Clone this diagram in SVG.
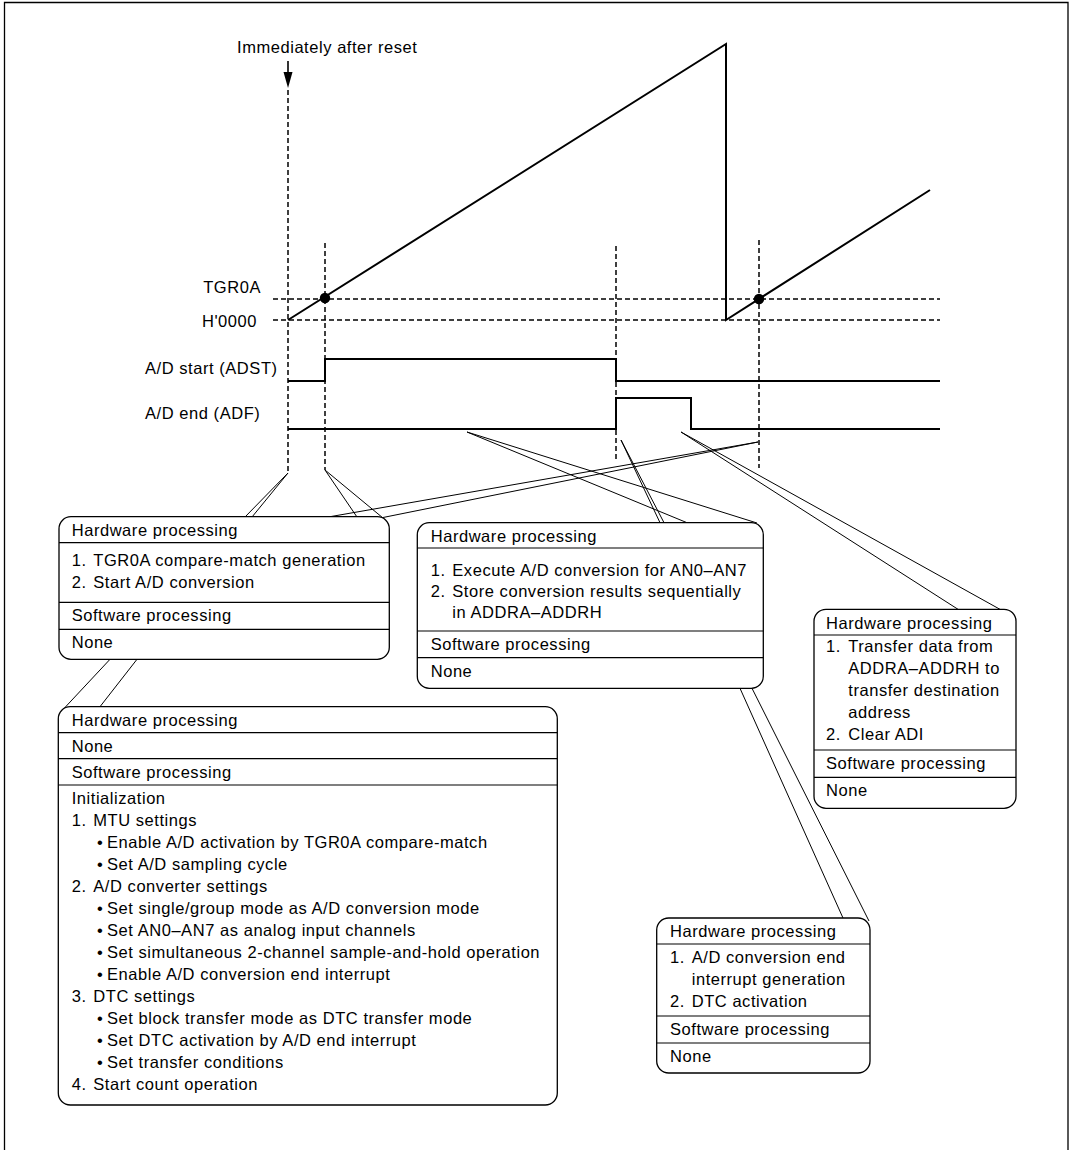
<svg xmlns="http://www.w3.org/2000/svg" width="1072" height="1150" viewBox="0 0 1072 1150">
  <defs>
    <style>
      .t { font-family: "Liberation Sans", Arial, sans-serif; font-size: 16.5px; letter-spacing: 0.55px; fill: #000; }
      .box { fill: #fff; stroke: #000; stroke-width: 1.3; }
      .div { stroke: #000; stroke-width: 1.2; }
      .dash { fill: none; stroke: #000; stroke-width: 1.5; stroke-dasharray: 5 3; }
      .wave { fill: none; stroke: #000; stroke-width: 2; }
      .call { fill: none; stroke: #000; stroke-width: 1; }
    </style>
  </defs>
  <rect width="1072" height="1150" fill="#fff"/>

  <!-- page frame -->
  <path d="M4.5,1150 V2.5 H1068 V1150" fill="none" stroke="#000" stroke-width="1.3"/>

  <!-- timing chart -->
  <g id="timing">
    <text class="t" x="237" y="53">Immediately after reset</text>
    <line x1="288" y1="61" x2="288" y2="74" stroke="#000" stroke-width="1.6"/>
    <polygon points="283.5,72 292.5,72 288,88" fill="#000"/>

    <!-- reference levels and time markers -->
    <line class="dash" x1="273" y1="299" x2="940" y2="299"/>
    <line class="dash" x1="273" y1="320" x2="940" y2="320"/>
    <line class="dash" x1="288" y1="90" x2="288" y2="473"/>
    <line class="dash" x1="325" y1="243" x2="325" y2="470"/>
    <line class="dash" x1="616" y1="246" x2="616" y2="462"/>
    <line class="dash" x1="759" y1="240" x2="759" y2="468"/>

    <text class="t" x="261" y="293" text-anchor="end">TGR0A</text>
    <text class="t" x="257" y="327" text-anchor="end">H'0000</text>
    <text class="t" x="145" y="374">A/D start (ADST)</text>
    <text class="t" x="145" y="419">A/D end (ADF)</text>

    <!-- TCNT sawtooth -->
    <path class="wave" d="M288,320 L726,44 L726,320 L930,190"/>
    <circle cx="325" cy="298" r="5.2" fill="#000"/>
    <circle cx="759" cy="299" r="5.2" fill="#000"/>

    <!-- ADST / ADF -->
    <path class="wave" d="M288,381 H325 V359 H616 V381 H940"/>
    <path class="wave" d="M288,429 H616 V398 H691 V429 H940"/>
  </g>

  <!-- callout connectors -->
  <g id="connectors" class="call">
    <line x1="288" y1="473" x2="245" y2="517"/>
    <line x1="288" y1="473" x2="252" y2="517"/>
    <line x1="325" y1="470" x2="357" y2="517"/>
    <line x1="325" y1="470" x2="383" y2="518"/>
    <line x1="758" y1="442" x2="330" y2="516.7"/>
    <line x1="758" y1="442" x2="383" y2="517.5"/>
    <line x1="467" y1="432" x2="687" y2="522.7"/>
    <line x1="467" y1="432" x2="757" y2="523"/>
    <line x1="621" y1="440" x2="660" y2="522.7"/>
    <line x1="621" y1="440" x2="664" y2="522.7"/>
    <line x1="681" y1="432" x2="958" y2="609.3"/>
    <line x1="681" y1="432" x2="1003" y2="611"/>
    <line x1="110" y1="659.3" x2="64" y2="708.5"/>
    <line x1="137" y1="659.3" x2="100" y2="706.7"/>
    <line x1="740" y1="688.3" x2="843" y2="918"/>
    <line x1="752" y1="688.3" x2="869" y2="921"/>
  </g>

  <!-- compare-match processing -->
  <g id="box-compare-match">
    <rect class="box" x="59" y="516.7" width="330.3" height="142.6" rx="12"/>
    <line class="div" x1="59" y1="542.7" x2="389.3" y2="542.7"/>
    <line class="div" x1="59" y1="602.3" x2="389.3" y2="602.3"/>
    <line class="div" x1="59" y1="629.3" x2="389.3" y2="629.3"/>
    <text class="t" x="71.7" y="535.5">Hardware processing</text>
    <text class="t" x="71.7" y="565.5">1.</text>
    <text class="t" x="93.3" y="565.5">TGR0A compare-match generation</text>
    <text class="t" x="71.7" y="587.5">2.</text>
    <text class="t" x="93.3" y="587.5">Start A/D conversion</text>
    <text class="t" x="71.7" y="621">Software processing</text>
    <text class="t" x="71.7" y="648">None</text>
  </g>

  <!-- conversion processing -->
  <g id="box-conversion">
    <rect class="box" x="417.3" y="522.7" width="346" height="165.6" rx="12"/>
    <line class="div" x1="417.3" y1="548" x2="763.3" y2="548"/>
    <line class="div" x1="417.3" y1="631" x2="763.3" y2="631"/>
    <line class="div" x1="417.3" y1="657.7" x2="763.3" y2="657.7"/>
    <text class="t" x="430.7" y="541.5">Hardware processing</text>
    <text class="t" x="430.7" y="576">1.</text>
    <text class="t" x="452.3" y="576">Execute A/D conversion for AN0–AN7</text>
    <text class="t" x="430.7" y="597">2.</text>
    <text class="t" x="452.3" y="597">Store conversion results sequentially</text>
    <text class="t" x="452.3" y="618">in ADDRA–ADDRH</text>
    <text class="t" x="430.7" y="650">Software processing</text>
    <text class="t" x="430.7" y="677">None</text>
  </g>

  <!-- DTC transfer processing -->
  <g id="box-transfer">
    <rect class="box" x="814" y="609.3" width="202" height="199" rx="12"/>
    <line class="div" x1="814" y1="635" x2="1016" y2="635"/>
    <line class="div" x1="814" y1="750" x2="1016" y2="750"/>
    <line class="div" x1="814" y1="777.3" x2="1016" y2="777.3"/>
    <text class="t" x="826" y="628.5">Hardware processing</text>
    <text class="t" x="826" y="652">1.</text>
    <text class="t" x="848.3" y="652">Transfer data from</text>
    <text class="t" x="848.3" y="674">ADDRA–ADDRH to</text>
    <text class="t" x="848.3" y="696">transfer destination</text>
    <text class="t" x="848.3" y="718">address</text>
    <text class="t" x="826" y="740">2.</text>
    <text class="t" x="848.3" y="740">Clear ADI</text>
    <text class="t" x="826" y="769">Software processing</text>
    <text class="t" x="826" y="796">None</text>
  </g>

  <!-- initialization after reset -->
  <g id="box-initialization">
    <rect class="box" x="58.3" y="706.7" width="499" height="398.3" rx="12"/>
    <line class="div" x1="58.3" y1="732.7" x2="557.3" y2="732.7"/>
    <line class="div" x1="58.3" y1="758.7" x2="557.3" y2="758.7"/>
    <line class="div" x1="58.3" y1="785" x2="557.3" y2="785"/>
    <text class="t" x="71.7" y="725.5">Hardware processing</text>
    <text class="t" x="71.7" y="751.5">None</text>
    <text class="t" x="71.7" y="777.5">Software processing</text>
    <text class="t" x="71.7" y="804">Initialization</text>
    <text class="t" x="71.7" y="826">1.</text>
    <text class="t" x="93.3" y="826">MTU settings</text>
    <text class="t" x="97" y="848">•</text>
    <text class="t" x="107" y="848">Enable A/D activation by TGR0A compare-match</text>
    <text class="t" x="97" y="870">•</text>
    <text class="t" x="107" y="870">Set A/D sampling cycle</text>
    <text class="t" x="71.7" y="892">2.</text>
    <text class="t" x="93.3" y="892">A/D converter settings</text>
    <text class="t" x="97" y="914">•</text>
    <text class="t" x="107" y="914">Set single/group mode as A/D conversion mode</text>
    <text class="t" x="97" y="936">•</text>
    <text class="t" x="107" y="936">Set AN0–AN7 as analog input channels</text>
    <text class="t" x="97" y="958">•</text>
    <text class="t" x="107" y="958">Set simultaneous 2-channel sample-and-hold operation</text>
    <text class="t" x="97" y="980">•</text>
    <text class="t" x="107" y="980">Enable A/D conversion end interrupt</text>
    <text class="t" x="71.7" y="1002">3.</text>
    <text class="t" x="93.3" y="1002">DTC settings</text>
    <text class="t" x="97" y="1024">•</text>
    <text class="t" x="107" y="1024">Set block transfer mode as DTC transfer mode</text>
    <text class="t" x="97" y="1046">•</text>
    <text class="t" x="107" y="1046">Set DTC activation by A/D end interrupt</text>
    <text class="t" x="97" y="1068">•</text>
    <text class="t" x="107" y="1068">Set transfer conditions</text>
    <text class="t" x="71.7" y="1090">4.</text>
    <text class="t" x="93.3" y="1090">Start count operation</text>
  </g>

  <!-- conversion end interrupt processing -->
  <g id="box-interrupt">
    <rect class="box" x="656.7" y="918" width="213.3" height="155" rx="12"/>
    <line class="div" x1="656.7" y1="944" x2="870" y2="944"/>
    <line class="div" x1="656.7" y1="1016" x2="870" y2="1016"/>
    <line class="div" x1="656.7" y1="1043" x2="870" y2="1043"/>
    <text class="t" x="670" y="937">Hardware processing</text>
    <text class="t" x="670" y="963">1.</text>
    <text class="t" x="691.7" y="963">A/D conversion end</text>
    <text class="t" x="691.7" y="985">interrupt generation</text>
    <text class="t" x="670" y="1007">2.</text>
    <text class="t" x="691.7" y="1007">DTC activation</text>
    <text class="t" x="670" y="1035">Software processing</text>
    <text class="t" x="670" y="1062">None</text>
  </g>
</svg>
